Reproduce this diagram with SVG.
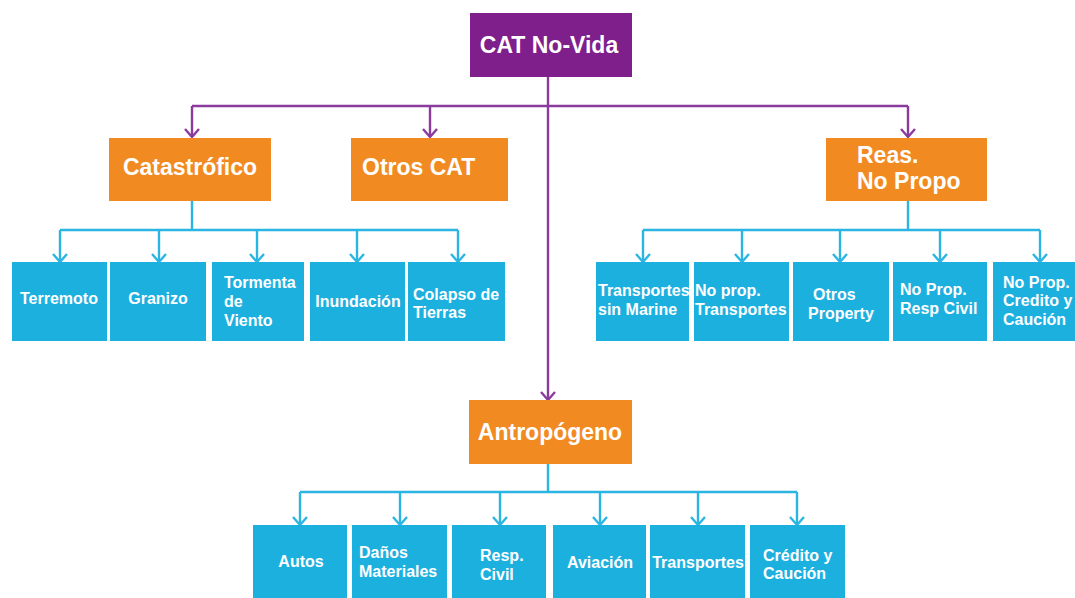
<svg xmlns="http://www.w3.org/2000/svg" width="1075" height="598" viewBox="0 0 1075 598">
  <defs>
    <marker id="arrP" markerUnits="userSpaceOnUse" markerWidth="20" markerHeight="20" viewBox="-10 -10 20 20" refX="0" refY="0" orient="auto">
      <path d="M-8,-7 L0,0 L-8,7" fill="none" stroke="#8B3A9E" stroke-width="2.4"/>
    </marker>
    <marker id="arrC" markerUnits="userSpaceOnUse" markerWidth="20" markerHeight="20" viewBox="-10 -10 20 20" refX="0" refY="0" orient="auto">
      <path d="M-8,-7 L0,0 L-8,7" fill="none" stroke="#2BB5E2" stroke-width="2.4"/>
    </marker>
  </defs>
  <style>
    .root { fill: #7E1F8C; }
    .mid { fill: #F28A22; }
    .leaf { fill: #1CB0DF; }
    text { font-family: "Liberation Sans", Arial, sans-serif; font-weight: bold; fill: #ffffff; }
    .big { font-size: 23px; }
    .sm { font-size: 16px; }
    .lp { fill: none; stroke: #8B3A9E; stroke-width: 2.4; }
    .lc { fill: none; stroke: #2BB5E2; stroke-width: 2.4; }
  </style>
  <rect width="1075" height="598" fill="#ffffff"/>

  <!-- connectors -->
  <g id="connectors">
    <!-- root to second level -->
    <path class="lp" d="M548,77 V400" marker-end="url(#arrP)"/>
    <path class="lp" d="M192,106 H908"/>
    <path class="lp" d="M192,106 V137" marker-end="url(#arrP)"/>
    <path class="lp" d="M430,106 V137" marker-end="url(#arrP)"/>
    <path class="lp" d="M908,106 V137" marker-end="url(#arrP)"/>
    <!-- Catastrófico branch -->
    <path class="lc" d="M192,201 V230 M60,230 H458"/>
    <path class="lc" d="M60,230 V262" marker-end="url(#arrC)"/>
    <path class="lc" d="M159,230 V262" marker-end="url(#arrC)"/>
    <path class="lc" d="M257,230 V262" marker-end="url(#arrC)"/>
    <path class="lc" d="M357,230 V262" marker-end="url(#arrC)"/>
    <path class="lc" d="M458,230 V262" marker-end="url(#arrC)"/>
    <!-- Reas. No Propo branch -->
    <path class="lc" d="M908,201 V230 M643,230 H1040"/>
    <path class="lc" d="M643,230 V262" marker-end="url(#arrC)"/>
    <path class="lc" d="M742,230 V262" marker-end="url(#arrC)"/>
    <path class="lc" d="M840,230 V262" marker-end="url(#arrC)"/>
    <path class="lc" d="M940,230 V262" marker-end="url(#arrC)"/>
    <path class="lc" d="M1040,230 V262" marker-end="url(#arrC)"/>
    <!-- Antropógeno branch -->
    <path class="lc" d="M548,464 V492 M300,492 H797"/>
    <path class="lc" d="M300,492 V525" marker-end="url(#arrC)"/>
    <path class="lc" d="M400,492 V525" marker-end="url(#arrC)"/>
    <path class="lc" d="M500,492 V525" marker-end="url(#arrC)"/>
    <path class="lc" d="M600,492 V525" marker-end="url(#arrC)"/>
    <path class="lc" d="M698,492 V525" marker-end="url(#arrC)"/>
    <path class="lc" d="M797,492 V525" marker-end="url(#arrC)"/>
  </g>

  <!-- top node -->
  <g id="cat-no-vida">
    <rect class="root" x="470" y="13" width="162" height="64"/>
    <text class="big" x="549" y="53" text-anchor="middle">CAT No-Vida</text>
  </g>

  <!-- second level -->
  <g id="catastrofico">
    <rect class="mid" x="109" y="138" width="162" height="63"/>
    <text class="big" x="190" y="175" text-anchor="middle">Catastrófico</text>
  </g>
  <g id="otros-cat">
    <rect class="mid" x="351" y="138" width="157" height="63"/>
    <text class="big" x="362" y="175">Otros CAT</text>
  </g>
  <g id="reas-no-propo">
    <rect class="mid" x="826" y="138" width="161" height="63"/>
    <text class="big" x="857" y="163">Reas.</text>
    <text class="big" x="857" y="189">No Propo</text>
  </g>
  <g id="antropogeno">
    <rect class="mid" x="469" y="400" width="163" height="64"/>
    <text class="big" x="550" y="440" text-anchor="middle">Antropógeno</text>
  </g>

  <!-- Catastrófico leaves -->
  <g id="terremoto">
    <rect class="leaf" x="12" y="262" width="95" height="79"/>
    <text class="sm" x="59" y="304" text-anchor="middle">Terremoto</text>
  </g>
  <g id="granizo">
    <rect class="leaf" x="110" y="262" width="96" height="79"/>
    <text class="sm" x="158" y="304" text-anchor="middle">Granizo</text>
  </g>
  <g id="tormenta-de-viento">
    <rect class="leaf" x="212" y="262" width="92" height="79"/>
    <text class="sm" x="224" y="288">Tormenta</text>
    <text class="sm" x="224" y="307">de</text>
    <text class="sm" x="224" y="326">Viento</text>
  </g>
  <g id="inundacion">
    <rect class="leaf" x="310" y="262" width="95" height="79"/>
    <text class="sm" x="358" y="307" text-anchor="middle">Inundación</text>
  </g>
  <g id="colapso-de-tierras">
    <rect class="leaf" x="408" y="262" width="97" height="79"/>
    <text class="sm" x="413" y="300">Colapso de</text>
    <text class="sm" x="413" y="318">Tierras</text>
  </g>

  <!-- Reas. No Propo leaves -->
  <g id="transportes-sin-marine">
    <rect class="leaf" x="596" y="262" width="93" height="79"/>
    <text class="sm" x="598" y="296">Transportes</text>
    <text class="sm" x="598" y="315">sin Marine</text>
  </g>
  <g id="no-prop-transportes">
    <rect class="leaf" x="694" y="262" width="95" height="79"/>
    <text class="sm" x="695" y="296">No prop.</text>
    <text class="sm" x="695" y="315">Transportes</text>
  </g>
  <g id="otros-property">
    <rect class="leaf" x="793" y="262" width="96" height="79"/>
    <text class="sm" x="813" y="300">Otros</text>
    <text class="sm" x="808" y="319">Property</text>
  </g>
  <g id="no-prop-resp-civil">
    <rect class="leaf" x="893" y="262" width="94" height="79"/>
    <text class="sm" x="900" y="295">No Prop.</text>
    <text class="sm" x="900" y="314">Resp Civil</text>
  </g>
  <g id="no-prop-credito-caucion">
    <rect class="leaf" x="993" y="262" width="95" height="79"/>
    <text class="sm" x="1003" y="288">No Prop.</text>
    <text class="sm" x="1003" y="306">Credito y</text>
    <text class="sm" x="1003" y="325">Caución</text>
  </g>

  <!-- Antropógeno leaves -->
  <g id="autos">
    <rect class="leaf" x="253" y="525" width="94" height="80"/>
    <text class="sm" x="301" y="567" text-anchor="middle">Autos</text>
  </g>
  <g id="danos-materiales">
    <rect class="leaf" x="352" y="525" width="95" height="80"/>
    <text class="sm" x="359" y="558">Daños</text>
    <text class="sm" x="359" y="577">Materiales</text>
  </g>
  <g id="resp-civil">
    <rect class="leaf" x="452" y="525" width="94" height="80"/>
    <text class="sm" x="480" y="561">Resp.</text>
    <text class="sm" x="480" y="580">Civil</text>
  </g>
  <g id="aviacion">
    <rect class="leaf" x="553" y="525" width="93" height="80"/>
    <text class="sm" x="600" y="568" text-anchor="middle">Aviación</text>
  </g>
  <g id="transportes">
    <rect class="leaf" x="650" y="525" width="95" height="80"/>
    <text class="sm" x="698" y="568" text-anchor="middle">Transportes</text>
  </g>
  <g id="credito-caucion">
    <rect class="leaf" x="750" y="525" width="95" height="80"/>
    <text class="sm" x="763" y="561">Crédito y</text>
    <text class="sm" x="763" y="579">Caución</text>
  </g>
</svg>
